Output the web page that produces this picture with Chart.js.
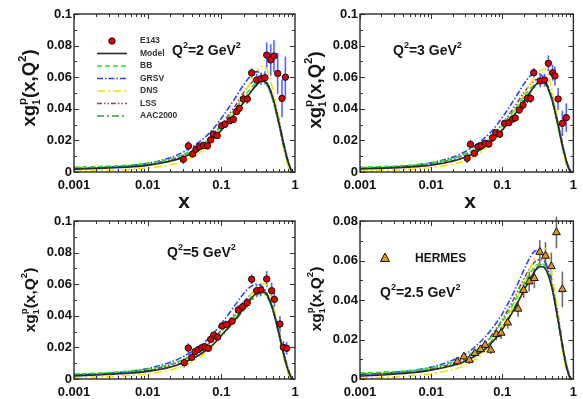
<!DOCTYPE html>
<html>
<head>
<meta charset="utf-8">
<script src="https://cdn.jsdelivr.net/npm/chart.js@4.4.1/dist/chart.umd.min.js"></script>
<style>
  html, body { margin: 0; padding: 0; background: #fff; }
  #wrap { position: relative; width: 583px; height: 399px; }
  canvas { position: absolute; left: 0; top: 0; }
</style>
</head>
<body>
<div id="wrap">
  <canvas id="c1" width="583" height="399"></canvas>
  <canvas id="c2" width="583" height="399"></canvas>
  <canvas id="c3" width="583" height="399"></canvas>
  <canvas id="c4" width="583" height="399"></canvas>
</div>
<script>
const FONT = '"Liberation Sans", Arial, Helvetica, sans-serif';

// x grid used by the model curves
const xGrid = [0.001, 0.002, 0.005, 0.01, 0.02, 0.03, 0.05, 0.07, 0.1, 0.15, 0.2, 0.25, 0.3, 0.35, 0.4, 0.5, 0.6, 0.7, 0.8, 0.9, 0.95];

const xTickValues = [0.001, 0.01, 0.1, 1];
const xTickLabels = ['0.001', '0.01', '0.1', '1'];
const yTickLabels10 = ['0', '0.02', '0.04', '0.06', '0.08', '0.1'];
const yTickLabels08 = ['0', '0.02', '0.04', '0.06', '0.08'];

// Q2 = 2 GeV2
const model2 = [0.0018, 0.0022, 0.0030, 0.0042, 0.0068, 0.0092, 0.0140, 0.0188, 0.0265, 0.0365, 0.0440, 0.0505, 0.0550, 0.0575, 0.0570, 0.0470, 0.0320, 0.0180, 0.0070, 0.0005, 0];
const bb2    = [0.0030, 0.0034, 0.0042, 0.0055, 0.0082, 0.0110, 0.0160, 0.0210, 0.0290, 0.0390, 0.0470, 0.0530, 0.0565, 0.0575, 0.0560, 0.0460, 0.0310, 0.0170, 0.0070, 0.0010, 0];
const grsv2  = [0.0020, 0.0026, 0.0038, 0.0055, 0.0090, 0.0125, 0.0190, 0.0250, 0.0340, 0.0460, 0.0550, 0.0610, 0.0635, 0.0620, 0.0580, 0.0460, 0.0310, 0.0170, 0.0070, 0.0010, 0];
const dns2   = [0.0005, 0.0008, 0.0015, 0.0025, 0.0045, 0.0068, 0.0120, 0.0180, 0.0270, 0.0390, 0.0490, 0.0570, 0.0635, 0.0670, 0.0660, 0.0520, 0.0330, 0.0150, 0.0040, 0, 0];
const lss2   = [0.0022, 0.0026, 0.0035, 0.0048, 0.0078, 0.0105, 0.0160, 0.0215, 0.0300, 0.0410, 0.0500, 0.0560, 0.0590, 0.0595, 0.0580, 0.0480, 0.0340, 0.0190, 0.0080, 0.0010, 0];
const aac2   = [0.0025, 0.0028, 0.0035, 0.0045, 0.0068, 0.0092, 0.0140, 0.0188, 0.0265, 0.0360, 0.0440, 0.0505, 0.0555, 0.0575, 0.0565, 0.0460, 0.0310, 0.0160, 0.0060, 0.0005, 0];
const e143x2 = [0.0305, 0.0357, 0.0408, 0.0453, 0.0502, 0.0569, 0.0645, 0.0716, 0.0778, 0.088, 0.101, 0.112, 0.131, 0.146, 0.161, 0.175, 0.199, 0.225, 0.258, 0.302, 0.345, 0.391, 0.413, 0.468, 0.518, 0.582, 0.666, 0.74];
const e143y2 = [0.0080, 0.0165, 0.0114, 0.0144, 0.0160, 0.0169, 0.0165, 0.0203, 0.0240, 0.0230, 0.0293, 0.0302, 0.0325, 0.0333, 0.0382, 0.0403, 0.0462, 0.0462, 0.0627, 0.0582, 0.0590, 0.0597, 0.0740, 0.0709, 0.0734, 0.0624, 0.0466, 0.0600];
const e143e2 = [0.003, 0.003, 0.002, 0.002, 0.002, 0.002, 0.002, 0.002, 0.002, 0.002, 0.002, 0.002, 0.002, 0.002, 0.002, 0.002, 0.003, 0.003, 0.003, 0.004, 0.004, 0.004, 0.008, 0.010, 0.010, 0.013, 0.012, 0.013];

// Q2 = 3 GeV2
const model3 = [0.0019, 0.0023, 0.0031, 0.0043, 0.0068, 0.0093, 0.0142, 0.0190, 0.0265, 0.0365, 0.0445, 0.0510, 0.0555, 0.0575, 0.0565, 0.0460, 0.0310, 0.0170, 0.0065, 0.0005, 0];
const bb3    = [0.0030, 0.0034, 0.0043, 0.0057, 0.0085, 0.0114, 0.0165, 0.0215, 0.0295, 0.0395, 0.0475, 0.0530, 0.0560, 0.0570, 0.0555, 0.0455, 0.0305, 0.0165, 0.0065, 0.0010, 0];
const grsv3  = [0.0022, 0.0028, 0.0040, 0.0058, 0.0094, 0.0128, 0.0195, 0.0255, 0.0345, 0.0465, 0.0555, 0.0610, 0.0630, 0.0615, 0.0580, 0.0460, 0.0310, 0.0170, 0.0070, 0.0010, 0];
const dns3   = [0.0006, 0.0009, 0.0017, 0.0028, 0.0050, 0.0073, 0.0125, 0.0185, 0.0275, 0.0390, 0.0485, 0.0560, 0.0615, 0.0645, 0.0650, 0.0520, 0.0330, 0.0150, 0.0040, 0, 0];
const lss3   = [0.0024, 0.0028, 0.0037, 0.0051, 0.0082, 0.0110, 0.0165, 0.0220, 0.0305, 0.0415, 0.0500, 0.0555, 0.0585, 0.0590, 0.0575, 0.0475, 0.0335, 0.0185, 0.0075, 0.0010, 0];
const aac3   = [0.0026, 0.0029, 0.0036, 0.0047, 0.0071, 0.0096, 0.0145, 0.0193, 0.0268, 0.0365, 0.0445, 0.0505, 0.0550, 0.0570, 0.0560, 0.0455, 0.0305, 0.0160, 0.0060, 0.0005, 0];
const e143x3 = [0.0321, 0.0357, 0.0405, 0.0455, 0.0505, 0.058, 0.0649, 0.073, 0.081, 0.092, 0.108, 0.124, 0.14, 0.152, 0.173, 0.196, 0.225, 0.25, 0.277, 0.342, 0.392, 0.445, 0.51, 0.55, 0.61, 0.70, 0.794];
const e143y3 = [0.0087, 0.0175, 0.0118, 0.0160, 0.0167, 0.0182, 0.0177, 0.0217, 0.0249, 0.0239, 0.0308, 0.0312, 0.0335, 0.0342, 0.0392, 0.0424, 0.0466, 0.0466, 0.0628, 0.0576, 0.0582, 0.0688, 0.0628, 0.0608, 0.0462, 0.0308, 0.0344];
const e143e3 = [0.003, 0.003, 0.002, 0.002, 0.002, 0.002, 0.002, 0.002, 0.002, 0.002, 0.002, 0.002, 0.002, 0.002, 0.002, 0.003, 0.003, 0.003, 0.003, 0.004, 0.004, 0.005, 0.005, 0.006, 0.007, 0.008, 0.009];

// Q2 = 5 GeV2
const model5 = [0.0020, 0.0025, 0.0035, 0.0048, 0.0075, 0.0102, 0.0152, 0.0200, 0.0275, 0.0370, 0.0445, 0.0505, 0.0545, 0.0555, 0.0545, 0.0440, 0.0295, 0.0160, 0.0060, 0.0005, 0];
const bb5    = [0.0032, 0.0037, 0.0048, 0.0063, 0.0093, 0.0122, 0.0175, 0.0225, 0.0300, 0.0395, 0.0465, 0.0515, 0.0545, 0.0550, 0.0535, 0.0435, 0.0290, 0.0155, 0.0060, 0.0010, 0];
const grsv5  = [0.0024, 0.0031, 0.0046, 0.0066, 0.0105, 0.0140, 0.0205, 0.0265, 0.0350, 0.0460, 0.0540, 0.0585, 0.0600, 0.0590, 0.0555, 0.0440, 0.0295, 0.0160, 0.0065, 0.0010, 0];
const dns5   = [0.0008, 0.0012, 0.0021, 0.0033, 0.0057, 0.0082, 0.0135, 0.0190, 0.0275, 0.0380, 0.0465, 0.0530, 0.0580, 0.0605, 0.0600, 0.0480, 0.0305, 0.0140, 0.0035, 0, 0];
const lss5   = [0.0026, 0.0031, 0.0041, 0.0056, 0.0089, 0.0118, 0.0175, 0.0230, 0.0310, 0.0410, 0.0485, 0.0535, 0.0560, 0.0565, 0.0550, 0.0450, 0.0315, 0.0175, 0.0070, 0.0010, 0];
const aac5   = [0.0028, 0.0032, 0.0040, 0.0052, 0.0078, 0.0104, 0.0153, 0.0200, 0.0272, 0.0362, 0.0435, 0.0490, 0.0530, 0.0545, 0.0535, 0.0435, 0.0290, 0.0150, 0.0055, 0.0005, 0];
const e143x5 = [0.0314, 0.0356, 0.0396, 0.0439, 0.0487, 0.054, 0.060, 0.0667, 0.0717, 0.079, 0.089, 0.102, 0.117, 0.140, 0.170, 0.195, 0.225, 0.258, 0.302, 0.342, 0.413, 0.482, 0.524, 0.625, 0.694, 0.771];
const e143y5 = [0.0103, 0.0196, 0.0137, 0.0173, 0.0186, 0.0198, 0.0204, 0.0194, 0.0251, 0.0278, 0.0265, 0.0335, 0.0345, 0.0366, 0.0437, 0.0458, 0.0483, 0.0631, 0.0559, 0.0563, 0.0633, 0.0559, 0.0504, 0.0348, 0.0201, 0.0194];
const e143e5 = [0.003, 0.003, 0.002, 0.002, 0.002, 0.002, 0.002, 0.002, 0.002, 0.002, 0.002, 0.002, 0.002, 0.002, 0.003, 0.003, 0.003, 0.003, 0.004, 0.004, 0.005, 0.005, 0.005, 0.005, 0.004, 0.004];

// Q2 = 2.5 GeV2
const model25 = [0.0015, 0.0020, 0.0030, 0.0045, 0.0068, 0.0090, 0.0135, 0.0180, 0.0250, 0.0360, 0.0445, 0.0510, 0.0555, 0.0570, 0.0560, 0.0460, 0.0310, 0.0170, 0.0060, 0.0005, 0];
const bb25    = [0.0030, 0.0034, 0.0043, 0.0057, 0.0085, 0.0112, 0.0163, 0.0212, 0.0290, 0.0395, 0.0480, 0.0540, 0.0575, 0.0585, 0.0570, 0.0465, 0.0310, 0.0165, 0.0065, 0.0010, 0];
const grsv25  = [0.0022, 0.0028, 0.0042, 0.0060, 0.0095, 0.0125, 0.0190, 0.0250, 0.0330, 0.0450, 0.0550, 0.0620, 0.0650, 0.0640, 0.0600, 0.0470, 0.0320, 0.0170, 0.0070, 0.0010, 0];
const dns25   = [0.0005, 0.0008, 0.0016, 0.0027, 0.0048, 0.0070, 0.0120, 0.0178, 0.0265, 0.0385, 0.0485, 0.0565, 0.0625, 0.0655, 0.0660, 0.0530, 0.0335, 0.0150, 0.0040, 0, 0];
const lss25   = [0.0023, 0.0027, 0.0036, 0.0050, 0.0080, 0.0108, 0.0163, 0.0218, 0.0300, 0.0415, 0.0505, 0.0565, 0.0600, 0.0605, 0.0590, 0.0485, 0.0340, 0.0185, 0.0075, 0.0010, 0];
const aac25   = [0.0025, 0.0028, 0.0035, 0.0046, 0.0070, 0.0094, 0.0142, 0.0190, 0.0262, 0.0365, 0.0450, 0.0515, 0.0560, 0.0580, 0.0570, 0.0465, 0.0310, 0.0160, 0.0060, 0.0005, 0];
const hermesX = [0.0234, 0.0289, 0.0345, 0.041, 0.0495, 0.0575, 0.069, 0.0826, 0.0965, 0.119, 0.167, 0.20, 0.239, 0.283, 0.337, 0.405, 0.49, 0.578, 0.70];
const hermesY = [0.0088, 0.0113, 0.0096, 0.0130, 0.0150, 0.0172, 0.0147, 0.0226, 0.0233, 0.0285, 0.0355, 0.0450, 0.0493, 0.0510, 0.0643, 0.0623, 0.0570, 0.0742, 0.0454];
const hermesE = [0.002, 0.002, 0.002, 0.002, 0.002, 0.002, 0.002, 0.003, 0.003, 0.003, 0.004, 0.004, 0.005, 0.005, 0.006, 0.007, 0.007, 0.008, 0.009];

const curveStyles = [
  { label: 'Model',   color: '#2a2a2a', dash: [],                 width: 1.6 },
  { label: 'BB',      color: '#22e622', dash: [5, 3],             width: 1.6 },
  { label: 'GRSV',    color: '#2a46ff', dash: [6, 2, 1.5, 2],     width: 1.6 },
  { label: 'DNS',     color: '#f2e600', dash: [8, 3, 2, 3],       width: 1.6 },
  { label: 'LSS',     color: '#9a3a6a', dash: [5, 2, 1.5, 2, 1.5, 2], width: 1.6 },
  { label: 'AAC2000', color: '#2e9e3a', dash: [7, 3, 2, 3],       width: 1.6 }
];

function drawRich(ctx, x, y, segs) {
  let cx = x;
  segs.forEach(s => {
    ctx.font = 'bold ' + s.size + 'px ' + FONT;
    ctx.fillText(s.t, cx, y + (s.dy || 0));
    if (!s.stack) cx += ctx.measureText(s.t).width;
  });
}
function richWidth(ctx, segs) {
  let w = 0;
  segs.forEach(s => {
    ctx.font = 'bold ' + s.size + 'px ' + FONT;
    if (!s.stack) w += ctx.measureText(s.t).width;
  });
  return w;
}

function makePanelPlugin(p) {
  return {
    id: 'panel',
    beforeDatasetsDraw(chart) {
      const ctx = chart.ctx, xs = chart.scales.x, ys = chart.scales.y;
      const ds = chart.data.datasets[0];
      ctx.save();
      ctx.strokeStyle = p.errColor;
      ctx.lineWidth = 1.6;
      ds.data.forEach((pt, i) => {
        const px = xs.getPixelForValue(pt.x);
        ctx.beginPath();
        ctx.moveTo(px, ys.getPixelForValue(pt.y - ds.errors[i]));
        ctx.lineTo(px, ys.getPixelForValue(pt.y + ds.errors[i]));
        ctx.stroke();
      });
      ctx.restore();
    },
    afterDraw(chart) {
      const ctx = chart.ctx, a = chart.chartArea, xs = chart.scales.x, ys = chart.scales.y;
      ctx.save();
      ctx.strokeStyle = '#333';
      ctx.lineWidth = 1;
      ctx.beginPath();
      for (let e = -3; e < 0; e++) {
        for (let m = 1; m <= 9; m++) {
          const px = Math.round(xs.getPixelForValue(m * Math.pow(10, e))) + 0.5;
          const len = m === 1 ? 5 : 3;
          ctx.moveTo(px, a.bottom); ctx.lineTo(px, a.bottom - len);
          ctx.moveTo(px, a.top); ctx.lineTo(px, a.top + len);
        }
      }
      const nMinor = Math.round(p.ymax / 0.01);
      for (let k = 0; k <= nMinor; k++) {
        const py = Math.round(ys.getPixelForValue(k * 0.01)) + 0.5;
        const len = k % 2 === 0 ? 5 : 3;
        ctx.moveTo(a.left, py); ctx.lineTo(a.left + len, py);
        ctx.moveTo(a.right, py); ctx.lineTo(a.right - len, py);
      }
      ctx.stroke();
      ctx.lineWidth = 1.4;
      ctx.strokeStyle = '#2a2a2a';
      ctx.strokeRect(a.left, a.top, a.right - a.left, a.bottom - a.top);

      ctx.fillStyle = '#151515';
      ctx.textBaseline = 'alphabetic';
      ctx.textAlign = 'left';
      // Q^2 label
      drawRich(ctx, p.qx, p.qy, [
        { t: 'Q', size: 14 }, { t: '2', size: 9, dy: -7 },
        { t: '=' + p.q2 + ' GeV', size: 14 }, { t: '2', size: 9, dy: -7 }
      ]);
      // y-axis title
      const fs = p.titleSize;
      const segs = [
        { t: 'xg', size: fs }, { t: '1', size: fs * 0.55, dy: fs * 0.28, stack: true },
        { t: 'p', size: fs * 0.62, dy: -fs * 0.5 }, { t: '(x,Q', size: fs },
        { t: '2', size: fs * 0.62, dy: -fs * 0.5 }, { t: ')', size: fs }
      ];
      ctx.save();
      ctx.translate(p.tx, p.ty);
      ctx.rotate(-Math.PI / 2);
      drawRich(ctx, -richWidth(ctx, segs) / 2, 0, segs);
      ctx.restore();
      // x-axis title
      if (p.xTitle) {
        ctx.font = 'bold 21px ' + FONT;
        ctx.textAlign = 'center';
        ctx.fillText('x', p.xTitle[0], p.xTitle[1]);
        ctx.textAlign = 'left';
      }
      // legend
      if (p.legend) {
        ctx.font = 'bold 8.5px ' + FONT;
        ctx.textBaseline = 'middle';
        const ds0 = chart.data.datasets[0];
        ctx.beginPath();
        ctx.arc(112, 41, 3.2, 0, Math.PI * 2);
        ctx.fillStyle = ds0.backgroundColor; ctx.fill();
        ctx.strokeStyle = '#111'; ctx.lineWidth = 1; ctx.stroke();
        ctx.fillStyle = '#333';
        ctx.fillText(ds0.label, 140, 41);
        curveStyles.forEach((c, i) => {
          const y = 53.5 + i * 12.5;
          ctx.save();
          ctx.strokeStyle = c.color; ctx.lineWidth = c.width; ctx.setLineDash(c.dash);
          ctx.beginPath(); ctx.moveTo(97, y); ctx.lineTo(127, y); ctx.stroke();
          ctx.restore();
          ctx.fillStyle = '#333';
          ctx.fillText(c.label, 140, y);
        });
      }
      if (p.hermesLegend) {
        const ds0 = chart.data.datasets[0];
        ctx.beginPath();
        ctx.moveTo(385, 253); ctx.lineTo(389.5, 261.5); ctx.lineTo(380.5, 261.5); ctx.closePath();
        ctx.fillStyle = ds0.backgroundColor; ctx.fill();
        ctx.strokeStyle = '#111'; ctx.lineWidth = 1; ctx.stroke();
        ctx.fillStyle = '#151515';
        ctx.font = 'bold 12px ' + FONT;
        ctx.textBaseline = 'middle';
        ctx.fillText(ds0.label, 415, 259);
      }
      ctx.restore();
    }
  };
}

function makePanel(id, p, curves, dx, dy, de) {
  const yw = 60, xh = 30;
  const datasets = [{
    type: 'scatter',
    label: p.dataLabel,
    data: dx.map((x, i) => ({ x: x, y: dy[i] })),
    errors: de,
    pointStyle: p.pointStyle,
    pointRadius: p.pointRadius,
    backgroundColor: p.pointColor,
    borderColor: '#111',
    borderWidth: 1
  }];
  curves.forEach((vals, k) => {
    const c = curveStyles[k];
    datasets.push({
      type: 'line',
      label: c.label,
      data: xGrid.map((x, i) => ({ x: x, y: vals[i] })),
      borderColor: c.color,
      borderDash: c.dash,
      borderWidth: c.width,
      pointRadius: 0,
      fill: false,
      cubicInterpolationMode: 'monotone'
    });
  });
  const tickFont = { family: FONT, size: 13, weight: 'bold' };
  const yLabels = p.ymax > 0.09 ? yTickLabels10 : yTickLabels08;
  new Chart(document.getElementById(id), {
    type: 'line',
    data: { datasets },
    options: {
      responsive: false,
      animation: false,
      events: [],
      layout: { padding: { left: p.left - yw, right: 583 - p.right, top: p.top, bottom: 399 - p.bottom - xh } },
      plugins: { legend: { display: false }, tooltip: { enabled: false } },
      scales: {
        x: {
          type: 'logarithmic', min: 0.001, max: 1,
          afterFit: s => { s.height = xh; },
          grid: { display: false, drawTicks: false, tickLength: 0 }, border: { display: false },
          ticks: {
            autoSkip: false, maxRotation: 0, padding: 6, font: tickFont, color: '#111',
            callback: v => {
              const i = xTickValues.findIndex(t => Math.abs(t - v) < t * 1e-6);
              return i >= 0 ? xTickLabels[i] : '';
            }
          }
        },
        y: {
          min: 0, max: p.ymax,
          afterFit: s => { s.width = yw; },
          grid: { display: false, drawTicks: false, tickLength: 0 }, border: { display: false },
          ticks: {
            stepSize: 0.02, padding: 2, font: tickFont, color: '#111',
            callback: v => yLabels[Math.round(v / 0.02)] || ''
          }
        }
      }
    },
    plugins: [makePanelPlugin(p)]
  });
}

const e143Style = { dataLabel: 'E143', pointStyle: 'circle', pointRadius: 3.2, pointColor: '#e00000', errColor: 'rgba(60,85,255,0.9)' };
const hermesStyle = { dataLabel: 'HERMES', pointStyle: 'triangle', pointRadius: 4.5, pointColor: '#e8921e', errColor: '#6a6a6a' };

makePanel('c1', Object.assign({}, e143Style, {
  left: 74, right: 295, top: 14, bottom: 172, ymax: 0.1, q2: '2', qx: 172, qy: 55,
  tx: 35, ty: 88, titleSize: 18.5, xTitle: [184, 208], legend: true
}), [model2, bb2, grsv2, dns2, lss2, aac2], e143x2, e143y2, e143e2);

makePanel('c2', Object.assign({}, e143Style, {
  left: 360, right: 579, top: 14, bottom: 172, ymax: 0.1, q2: '3', qx: 393, qy: 55,
  tx: 321, ty: 90, titleSize: 18.5, xTitle: [470, 208]
}), [model3, bb3, grsv3, dns3, lss3, aac3], e143x3, e143y3, e143e3);

makePanel('c3', Object.assign({}, e143Style, {
  left: 74, right: 295, top: 221, bottom: 379, ymax: 0.1, q2: '5', qx: 167, qy: 257,
  tx: 35, ty: 300, titleSize: 15.5
}), [model5, bb5, grsv5, dns5, lss5, aac5], e143x5, e143y5, e143e5);

makePanel('c4', Object.assign({}, hermesStyle, {
  left: 360, right: 579, top: 221, bottom: 379, ymax: 0.08, q2: '2.5', qx: 380, qy: 297,
  tx: 321, ty: 299, titleSize: 15.5, hermesLegend: true
}), [model25, bb25, grsv25, dns25, lss25, aac25], hermesX, hermesY, hermesE);
</script>
</body>
</html>
